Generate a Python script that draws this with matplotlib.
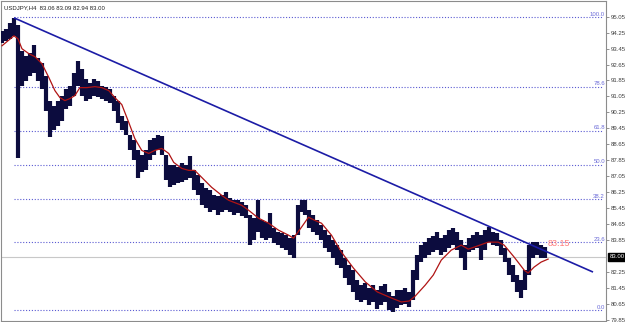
import matplotlib
matplotlib.use("Agg")
import matplotlib.pyplot as plt
import matplotlib.transforms as mtransforms
import numpy as np

# ---- data ----
title_text = "USDJPY,H4  83.06 83.09 82.94 83.00"
bar_high = [94.34, 94.44, 94.74, 94.99, 94.64, 93.34, 93.09, 93.24, 93.64, 92.99,
            92.74, 92.09, 90.84, 90.59, 90.84, 91.09, 91.44, 91.59, 92.24, 92.84,
            92.44, 91.94, 91.74, 91.94, 91.84, 91.59, 91.54, 91.44, 91.09, 90.84,
            90.09, 89.84, 89.09, 88.84, 88.34, 88.09, 88.34, 88.84, 88.94, 89.09,
            89.04, 88.09, 87.59, 87.59, 87.49, 87.69, 87.59, 88.04, 87.34, 87.09,
            86.69, 86.44, 86.34, 86.09, 86.04, 86.09, 86.24, 85.94, 85.84, 85.84,
            85.74, 85.59, 85.09, 84.94, 85.84, 84.84, 84.74, 85.19, 84.44, 84.24,
            84.19, 84.09, 83.94, 84.09, 85.59, 85.84, 85.84, 85.34, 85.09, 84.84,
            84.59, 84.34, 84.09, 83.84, 83.59, 83.34, 82.94, 82.59, 82.34, 81.84,
            81.59, 81.69, 81.44, 81.59, 81.34, 81.54, 81.64, 81.24, 81.04, 81.34,
            81.34, 81.44, 81.24, 82.34, 83.09, 83.59, 83.74, 83.94, 84.04, 84.24,
            83.94, 84.09, 84.34, 84.44, 84.24, 83.84, 83.59, 83.94, 84.09, 84.24,
            84.09, 84.34, 84.49, 84.24, 84.19, 83.84, 83.44, 82.94, 82.59, 82.09,
            81.84, 82.34, 83.59, 83.74, 83.74, 83.59, 83.49]
bar_low = [93.74, 93.84, 93.94, 94.09, 87.94, 91.59, 91.84, 92.09, 92.24, 91.84,
           91.44, 90.34, 88.99, 89.34, 89.59, 89.84, 90.44, 90.59, 91.09, 91.59,
           91.09, 90.84, 90.94, 91.09, 91.04, 90.94, 90.84, 90.74, 90.34, 89.74,
           89.34, 89.09, 88.34, 87.84, 86.94, 87.24, 87.34, 87.84, 88.09, 88.34,
           88.09, 86.84, 86.49, 86.59, 86.69, 86.74, 86.84, 86.94, 86.34, 86.09,
           85.59, 85.44, 85.24, 85.34, 85.09, 85.24, 85.34, 85.24, 85.09, 85.19,
           85.04, 84.94, 83.59, 83.84, 84.24, 83.94, 83.84, 83.94, 83.69, 83.59,
           83.44, 83.34, 83.09, 82.94, 84.09, 85.24, 85.09, 84.44, 84.24, 84.09,
           83.84, 83.44, 83.24, 82.94, 82.59, 82.44, 81.94, 81.59, 81.24, 80.84,
           80.74, 80.84, 80.59, 80.74, 80.39, 80.59, 80.74, 80.34, 80.24, 80.44,
           80.59, 80.64, 80.49, 80.84, 81.84, 82.74, 82.94, 83.09, 83.24, 83.34,
           83.09, 83.24, 83.44, 83.59, 83.34, 82.94, 82.34, 83.24, 83.34, 83.44,
           82.84, 83.34, 83.74, 83.59, 83.54, 83.09, 82.74, 82.09, 81.74, 81.24,
           80.94, 81.34, 82.09, 82.94, 83.09, 82.94, 82.94]

ma_bar = [0, 1.5, 3, 4, 5, 6.75, 8.25, 10, 11.75, 13.25, 14.5, 15.75, 17, 18.25,
          19.5, 21.25, 23.25, 25, 26.75, 28.25, 30, 31.75, 33.25, 35, 36.75, 38.25,
          40, 41.75, 43, 45, 46.75, 48.25, 50, 52.5, 55, 56.75, 60, 61.75, 64.25,
          66.75, 69.25, 71.75, 73, 75, 76.75, 78.25, 80, 82.5, 85, 88, 91, 94, 97.5,
          100, 102, 103.5, 106, 108, 110, 112.5, 115, 116.75, 118.25, 121.75,
          124.25, 125.75, 128.25, 130.75, 131.75, 133.25, 135, 136.75]
ma_val = [93.59, 93.84, 94.09, 93.94, 93.44, 93.19, 93.04, 92.69, 91.99, 91.34,
          90.99, 90.84, 90.94, 91.09, 91.49, 91.49, 91.54, 91.49, 91.34, 90.99,
          90.64, 89.74, 88.94, 88.34, 88.19, 88.34, 88.44, 88.19, 87.74, 87.44,
          87.34, 87.34, 86.99, 86.49, 86.09, 85.84, 85.59, 85.34, 84.94, 84.69,
          84.34, 84.09, 83.94, 84.49, 84.99, 84.84, 84.69, 84.09, 83.24, 82.44,
          81.74, 81.24, 80.94, 80.74, 80.79, 81.04, 81.59, 82.09, 82.84, 83.34,
          83.59, 83.39, 83.49, 83.74, 83.74, 83.59, 82.99, 82.34, 82.19, 82.49,
          82.74, 82.89]

trend_bar = [3, 148]
trend_price = [94.99, 82.24]

fib_labels = ["100.0", "78.6", "61.8", "50.0", "38.2", "23.6", "0.0"]
fib_prices = [95.01, 91.53, 89.33, 87.63, 85.88, 83.73, 80.33]
fib_start_bar = 3
fib_end_bar = 150.5

tick_prices = [95.05, 94.25, 93.45, 92.65, 91.85, 91.05, 90.25, 89.45, 88.65,
               87.85, 87.05, 86.25, 85.45, 84.65, 83.85, 82.25, 81.45, 80.65, 79.85]
tick_labels = ["95.05", "94.25", "93.45", "92.65", "91.85", "91.05", "90.25", "89.45",
               "88.65", "87.85", "87.05", "86.25", "85.45", "84.65", "83.85", "82.25",
               "81.45", "80.65", "79.85"]
last_price = 83.00
last_price_text = "83.00"
trend_value_text = "83.15"
trend_value_bar = 136.7
trend_value_price = 83.45

# ---- figure ----
W, H = 625, 322
fig = plt.figure(figsize=(W / 100, H / 100), dpi=100)
fig.patch.set_facecolor("white")
ax = fig.add_axes([1 / W, 1 / H, 605 / W, 320 / H])
ax.set_facecolor("white")

bar_x = np.arange(len(bar_high))
ax.set_xlim(-0.25, 151.25)
ax.set_ylim(95.05 - 305.3 / 20, 95.05 + 15.7 / 20)

# price line
ax.axhline(last_price, color="#c8c8c8", lw=0.8, zorder=1)

# fib levels
for lab, p in zip(fib_labels, fib_prices):
    ax.plot([fib_start_bar, fib_end_bar], [p, p], color="#5a5ad2", lw=0.8,
            linestyle=(0, (1, 1.6)), zorder=1)
    ax.text(151.0, p + 0.02, lab, color="#6c6cd8", fontsize=4.3,
            family="Liberation Sans", ha="right", va="bottom", zorder=2)

# bars
ax.vlines(bar_x, bar_low, bar_high, color="#0c0c3e", lw=3.0, zorder=3)

# moving average
ax.plot(ma_bar, ma_val, color="#b01414", lw=0.9, zorder=4)

# trend line
ax.plot(trend_bar, trend_price, color="#1c1ca6", lw=1.2, zorder=5,
        solid_capstyle="butt")

ax.text(trend_value_bar, trend_value_price, trend_value_text, color="#ff7a7a",
        fontsize=6.5, family="Liberation Sans", ha="left", va="bottom", zorder=6)

# axes styling
for s in ax.spines.values():
    s.set_color("#8c8c8c")
    s.set_linewidth(0.8)
ax.set_xticks([])
ax.yaxis.tick_right()
ax.set_yticks(tick_prices)
ax.set_yticklabels(tick_labels)
ax.tick_params(axis="y", direction="out", length=2.5, width=0.6, color="#808080",
               labelsize=4.3, labelcolor="#404040", pad=1.2)
for t in ax.get_yticklabels():
    t.set_family("Liberation Sans")

# last price box
trans = mtransforms.blended_transform_factory(ax.transAxes, ax.transData)
ax.text(1.006, last_price, last_price_text, transform=trans, color="white",
        fontsize=4.3, family="Liberation Sans", ha="left", va="center",
        bbox=dict(boxstyle="square,pad=0.25", fc="#000000", ec="#000000"),
        clip_on=False, zorder=10)

fig.text(4 / W, 1 - 8 / H, title_text, fontsize=4.3, family="Liberation Sans",
         color="#202020", ha="left", va="center")

fig.savefig("out.png", dpi=100, facecolor="white")
